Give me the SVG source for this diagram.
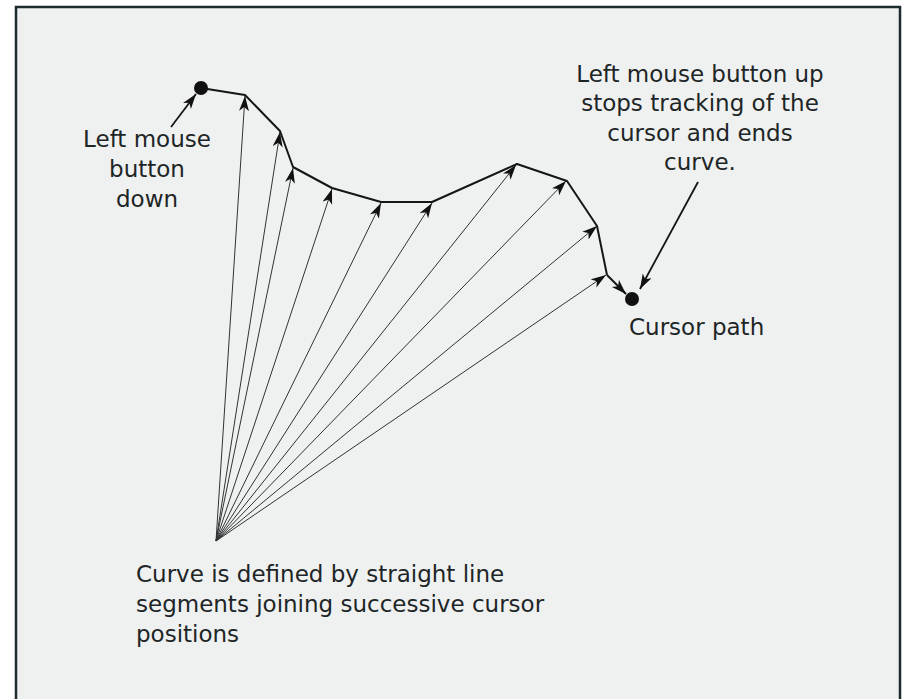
<svg xmlns="http://www.w3.org/2000/svg" width="909" height="699" viewBox="0 0 909 699">
  <style>
    .label { font-family: "DejaVu Sans", "Liberation Sans", sans-serif; font-size: 23px; fill: #1e2526; }
    .mid { text-anchor: middle; }
    .fan { stroke: #2f3333; stroke-width: 1; fill: none; }
    .path { stroke: #141616; stroke-width: 2; fill: none; stroke-linejoin: round; }
    .callout { stroke: #141616; stroke-width: 1.8; fill: none; }
    .dot { fill: #111; }
  </style>
  <defs>
    <marker id="arrow" markerUnits="userSpaceOnUse" markerWidth="16" markerHeight="12" refX="15" refY="5" orient="auto">
      <path d="M0,0 L15,5 L0,10 L4,5 z" fill="#111"/>
    </marker>
  </defs>

  <!-- page -->
  <rect x="0" y="0" width="909" height="699" fill="#ffffff"/>
  <rect x="16" y="7" width="884" height="710" fill="#eef1f0" stroke="#1d2b2e" stroke-width="2.5"/>

  <!-- connectors: fan of position vectors, cursor path and callouts -->
  <g id="connectors">
    <g class="fan">
      <line x1="216" y1="541" x2="245" y2="96" marker-end="url(#arrow)"/>
      <line x1="216" y1="541" x2="280" y2="132" marker-end="url(#arrow)"/>
      <line x1="216" y1="541" x2="293" y2="168" marker-end="url(#arrow)"/>
      <line x1="216" y1="541" x2="332" y2="189" marker-end="url(#arrow)"/>
      <line x1="216" y1="541" x2="381" y2="203" marker-end="url(#arrow)"/>
      <line x1="216" y1="541" x2="432" y2="203" marker-end="url(#arrow)"/>
      <line x1="216" y1="541" x2="516" y2="165" marker-end="url(#arrow)"/>
      <line x1="216" y1="541" x2="566" y2="181" marker-end="url(#arrow)"/>
      <line x1="216" y1="541" x2="597" y2="226" marker-end="url(#arrow)"/>
      <line x1="216" y1="541" x2="606" y2="275" marker-end="url(#arrow)"/>
    </g>
    <polyline class="path" points="201,88 245,95 280,131 293,167 332,188 381,202 432,202 517,164 567,181 597,226 607,275"/>
    <line class="path" x1="607" y1="275" x2="626" y2="294" marker-end="url(#arrow)"/>
    <line class="callout" x1="171" y1="127" x2="196" y2="94" marker-end="url(#arrow)"/>
    <line class="callout" x1="698" y1="182" x2="640" y2="289" marker-end="url(#arrow)"/>
  </g>

  <!-- start of stroke -->
  <g id="start">
    <circle class="dot" cx="201" cy="88" r="7"/>
    <text class="label mid" x="147" y="147">Left mouse</text>
    <text class="label mid" x="147" y="177">button</text>
    <text class="label mid" x="147" y="207">down</text>
  </g>

  <!-- end of stroke -->
  <g id="end">
    <circle class="dot" cx="632" cy="299" r="7"/>
    <text class="label" x="629" y="335">Cursor path</text>
  </g>

  <g id="release-note">
    <text class="label mid" x="700" y="82">Left mouse button up</text>
    <text class="label mid" x="700" y="111">stops tracking of the</text>
    <text class="label mid" x="700" y="141">cursor and ends</text>
    <text class="label mid" x="700" y="170">curve.</text>
  </g>

  <g id="fan-note">
    <text class="label" x="136" y="582">Curve is defined by straight line</text>
    <text class="label" x="136" y="612">segments joining successive cursor</text>
    <text class="label" x="136" y="642">positions</text>
  </g>
</svg>
